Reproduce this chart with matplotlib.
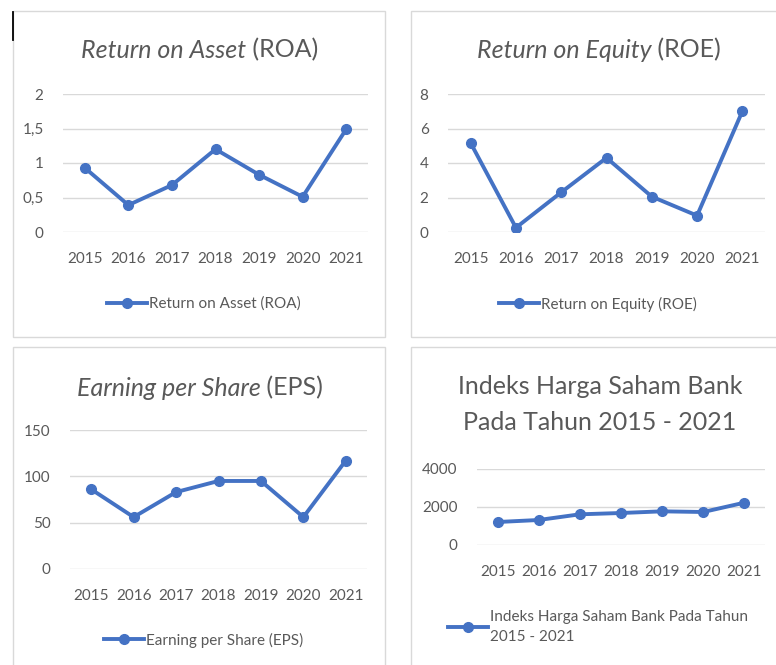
import matplotlib
matplotlib.use("Agg")
import matplotlib.pyplot as plt
from matplotlib.patches import Rectangle
from matplotlib.lines import Line2D
from matplotlib.ticker import FuncFormatter

plt.rcParams['font.family'] = ['Lato', 'DejaVu Sans']

years = ["2015", "2016", "2017", "2018", "2019", "2020", "2021"]
roa = [0.93, 0.39, 0.68, 1.20, 0.83, 0.51, 1.49]
roe = [5.16, 0.25, 2.30, 4.30, 2.05, 0.95, 7.00]
eps = [86, 56, 83, 95, 95, 56, 117]
ihs = [1210, 1316, 1615, 1684, 1772, 1737, 2228]

W, H = 776, 665
BLUE = "#4472C4"
GRAY = "#595959"

fig = plt.figure(figsize=(W / 100, H / 100), dpi=100)


def box(x0, y0, x1, y1):
    return [x0 / W, 1 - y1 / H, (x1 - x0) / W, (y1 - y0) / H]


def fx(x):
    return x / W


def fy(y):
    return 1 - y / H


# panel frames
for x0, y0, x1, y1 in [(13, 11, 385, 337), (411, 11, 790, 337),
                       (13, 347, 385, 680), (411, 347, 790, 680)]:
    fig.patches.append(Rectangle((fx(x0), fy(y1)), (x1 - x0) / W, (y1 - y0) / H,
                                 transform=fig.transFigure, fill=False,
                                 edgecolor="#d9d9d9", lw=1))

# little cursor mark top left
fig.lines.append(Line2D([fx(13), fx(13)], [fy(12), fy(40)], transform=fig.transFigure,
                        color="black", lw=1.3))

renderer = fig.canvas.get_renderer()


def mixed_title(cx, cy, italic, normal, size=18):
    t1 = fig.text(0, 0, italic, fontsize=size, style="italic", color=GRAY, va="center")
    t2 = fig.text(0, 0, " " + normal, fontsize=size, color=GRAY, va="center")
    w1 = t1.get_window_extent(renderer).width
    w2 = t2.get_window_extent(renderer).width
    left = cx - (w1 + w2) / 2
    t1.set_position((fx(left), fy(cy)))
    t2.set_position((fx(left + w1), fy(cy)))


def panel(rect, values, ylim, yticks, label, leg_xy, fmt=None):
    ax = fig.add_axes(box(*rect))
    ax.plot(range(len(years)), values, color=BLUE, lw=2.8, marker="o", ms=7, label=label)
    ax.set_xlim(-0.5, len(years) - 0.5)
    ax.set_ylim(*ylim)
    ax.set_yticks(yticks)
    ax.set_xticks(range(len(years)))
    ax.set_xticklabels(years)
    if fmt:
        ax.yaxis.set_major_formatter(FuncFormatter(fmt))
    ax.grid(axis="y", color="#d9d9d9", lw=1)
    ax.set_axisbelow(True)
    for s in ax.spines.values():
        s.set_visible(False)
    ax.tick_params(length=0, labelsize=11, colors=GRAY)
    ax.tick_params(axis="x", pad=14.5)
    ax.tick_params(axis="y", pad=14)
    ax.patch.set_alpha(0)
    leg = fig.legend(handles=ax.get_lines(), loc="center",
                     bbox_to_anchor=(fx(leg_xy[0]), fy(leg_xy[1])),
                     frameon=False, fontsize=11, labelcolor=GRAY, handlelength=2.6,
                     handletextpad=0.15)
    for t in leg.get_texts():
        t.set_linespacing(1.6)
    return ax


def comma(v, pos):
    return ("%g" % v).replace(".", ",")


panel((63, 94, 368, 232), roa, (0, 2), [0, 0.5, 1, 1.5, 2],
      "Return on Asset (ROA)", (204, 304), fmt=comma)
mixed_title(200, 50, "Return on Asset", "(ROA)")

panel((448, 94, 765, 232), roe, (0, 8), [0, 2, 4, 6, 8],
      "Return on Equity (ROE)", (598, 304))
mixed_title(599, 50, "Return on Equity", "(ROE)")

panel((70, 430, 367, 569), eps, (0, 150), [0, 50, 100, 150],
      "Earning per Share (EPS)", (204, 640))
mixed_title(200, 388, "Earning per Share", "(EPS)")

panel((477, 469, 765, 545), ihs, (0, 4000), [0, 2000, 4000],
      "Indeks Harga Saham Bank Pada Tahun\n2015 - 2021", (598, 627))
fig.text(fx(600), fy(386), "Indeks Harga Saham Bank",
         ha="center", va="center", fontsize=18, color=GRAY)
fig.text(fx(600), fy(423), "Pada Tahun 2015 - 2021",
         ha="center", va="center", fontsize=18, color=GRAY)

fig.savefig("out.png", dpi=100)
